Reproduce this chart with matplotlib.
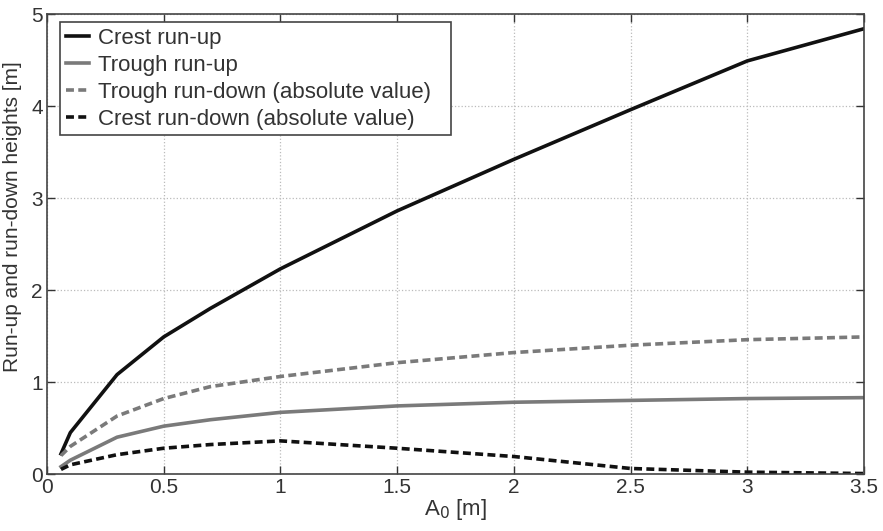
import matplotlib
matplotlib.use('Agg')
import matplotlib.pyplot as plt

plt.rcParams['font.family'] = ['Liberation Sans', 'DejaVu Sans']

a0 = [0.06, 0.1, 0.3, 0.5, 0.7, 1.0, 1.5, 2.0, 2.5, 3.0, 3.5]
crest_runup = [0.22, 0.45, 1.08, 1.49, 1.80, 2.23, 2.86, 3.42, 3.96, 4.49, 4.84]
trough_runup = [0.08, 0.15, 0.40, 0.52, 0.59, 0.67, 0.74, 0.78, 0.80, 0.82, 0.83]
trough_rundown = [0.20, 0.30, 0.63, 0.82, 0.95, 1.06, 1.21, 1.32, 1.40, 1.46, 1.49]
crest_rundown = [0.05, 0.10, 0.21, 0.28, 0.32, 0.36, 0.28, 0.19, 0.06, 0.02, 0.005]

fig = plt.figure(figsize=(8.83, 5.31), dpi=100)
ax = fig.add_axes([47/883, 57/531, 817/883, 460/531])

ax.plot(a0, crest_runup, color='#111111', lw=2.6, label='Crest run-up')
ax.plot(a0, trough_runup, color='#7a7a7a', lw=2.6, label='Trough run-up')
ax.plot(a0, trough_rundown, color='#7a7a7a', lw=2.6, ls=(0, (2.2, 1.2)),
        label='Trough run-down (absolute value)')
ax.plot(a0, crest_rundown, color='#111111', lw=2.6, ls=(0, (2.2, 1.2)),
        label='Crest run-down (absolute value)')

ax.set_xlim(0, 3.5)
ax.set_ylim(0, 5)
ax.set_xticks([0, 0.5, 1, 1.5, 2, 2.5, 3, 3.5])
ax.set_xticklabels(['0', '0.5', '1', '1.5', '2', '2.5', '3', '3.5'])
ax.set_yticks([0, 1, 2, 3, 4, 5])
ax.tick_params(direction='in', top=True, right=True, length=6, width=1,
               labelsize=15, colors='#333333', pad=3)
for s in ax.spines.values():
    s.set_color('#444444')
    s.set_linewidth(1.2)
ax.grid(True, ls=':', color='#bbbbbb', lw=0.9)

ax.set_xlabel('A$_0$ [m]', fontsize=16, color='#333333', labelpad=0)
ax.set_ylabel('Run-up and run-down heights [m]', fontsize=15, color='#333333')
ax.yaxis.set_label_coords(-0.031, 0.56)

leg = ax.legend(loc='upper left', fontsize=16, handlelength=1.05, handletextpad=0.4,
                borderaxespad=0, fancybox=False, framealpha=1, labelspacing=0.27,
                borderpad=0.25, mode='expand',
                bbox_to_anchor=(13/817, 0, 391/817, 1 - 8/460))
leg.get_frame().set_edgecolor('#444444')
leg.get_frame().set_linewidth(1.2)
for t in leg.get_texts():
    t.set_color('#333333')

fig.savefig('out.png', dpi=100)
